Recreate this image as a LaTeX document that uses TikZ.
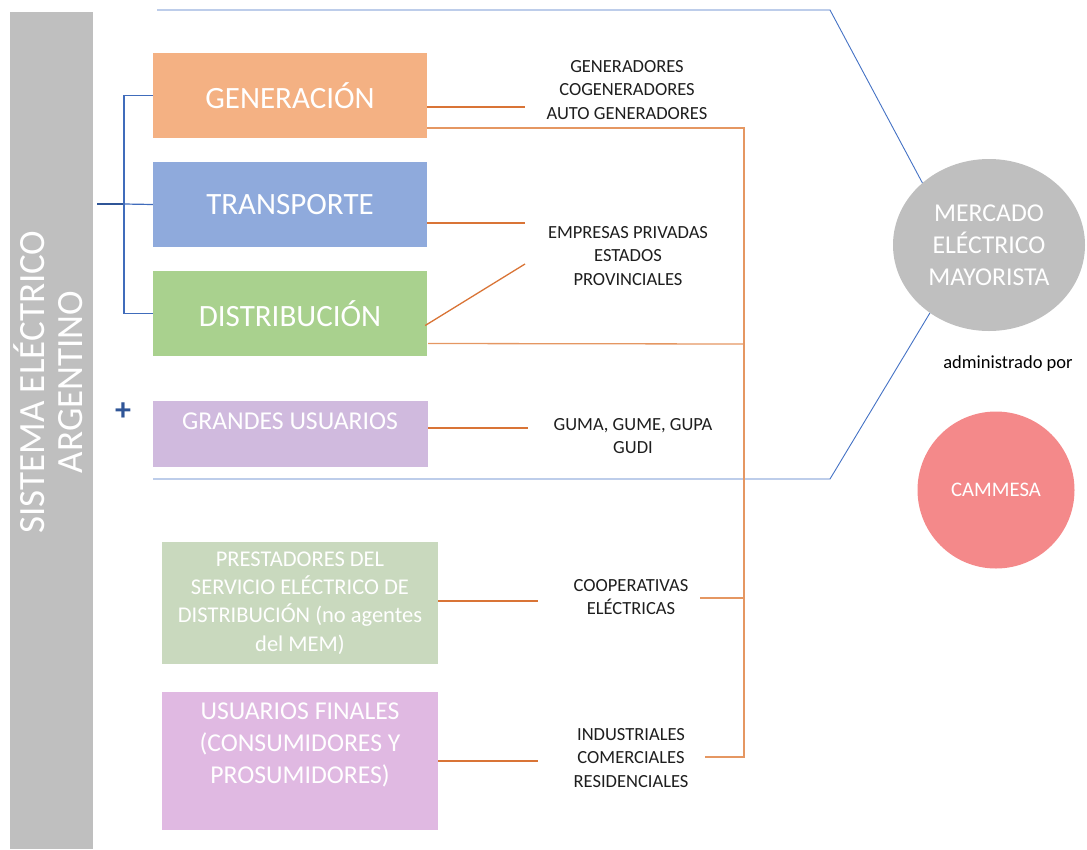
\documentclass[tikz,border=0pt]{standalone}
\usepackage{fontspec}
\setmainfont{Carlito}
\usetikzlibrary{calc,shapes.geometric}
\definecolor{barg}{RGB}{191,191,191}
\definecolor{cgen}{RGB}{244,177,131}
\definecolor{ctra}{RGB}{143,170,220}
\definecolor{cdis}{RGB}{169,209,142}
\definecolor{cgra}{RGB}{208,186,222}
\definecolor{cpre}{RGB}{201,217,190}
\definecolor{cusu}{RGB}{224,185,226}
\definecolor{ccam}{RGB}{244,137,138}
\definecolor{dblue}{RGB}{47,85,151}
\definecolor{lblue}{RGB}{68,114,196}
\definecolor{ostub}{RGB}{217,116,54}
\definecolor{obrk}{RGB}{229,151,98}
\definecolor{txt}{RGB}{30,30,30}
\begin{document}
\begin{tikzpicture}[x=1pt,y=-1pt,
  box/.style={rectangle,inner sep=0pt,draw=none,text=white,align=center},
  bigtxt/.style={font=\fontsize{31}{36}\selectfont},
  midtxt/.style={font=\fontsize{22.5}{28.5}\selectfont},
  lrgtxt/.style={font=\fontsize{25.7}{32}\selectfont},
  smalltxt/.style={font=\fontsize{18.5}{23.5}\selectfont,text=txt,align=center,inner sep=0pt},
  stub/.style={draw=ostub,line width=1.3pt},
  brk/.style={draw=obrk,line width=1.3pt},
  bline/.style={draw=lblue,line width=0.9pt},
  bracket/.style={draw=lblue!80!dblue,line width=1.2pt}]
\useasboundingbox (0,0) rectangle (1087,849);
% gray bar
\node[rectangle,fill=barg,inner sep=0pt,minimum width=83pt,minimum height=837pt,anchor=north west] (bar) at (10,12) {};
\node[rotate=90,text=white,align=center,inner sep=0pt,font=\fontsize{37}{38}\selectfont] (bartxt) at (48,382) {SISTEMA ELÉCTRICO\\ARGENTINO};
% boxes
\node[box,bigtxt,fill=cgen,minimum width=274pt,minimum height=85pt] (gen) at (290,95.5) {GENERACIÓN};
\node[box,bigtxt,fill=ctra,minimum width=274pt,minimum height=85pt] (tra) at (290,204.5) {TRANSPORTE};
\node[box,bigtxt,fill=cdis,minimum width=274pt,minimum height=85pt] (dis) at (290,313.5) {DISTRIBUCIÓN};
\node[box,fill=cgra,minimum width=275pt,minimum height=66pt] (gra) at (290.5,434) {};
\node[lrgtxt,text=white,inner sep=0pt] (gratxt) at (290,421) {GRANDES USUARIOS};
\node[box,midtxt,fill=cpre,minimum width=276pt,minimum height=122pt] (pre) at (300,603) {PRESTADORES DEL\\SERVICIO ELÉCTRICO DE\\DISTRIBUCIÓN (no agentes\\del MEM)};
\node[box,fill=cusu,minimum width=276pt,minimum height=138pt] (usu) at (300,761) {};
\node[lrgtxt,text=white,align=center,inner sep=0pt] (usutxt) at (300,745) {USUARIOS FINALES\\(CONSUMIDORES Y\\PROSUMIDORES)};
% bracket
\coordinate (bx) at (124,204);
\draw[draw=dblue,line width=1.4pt] (97,204) -- (bx);
\draw[bracket] (bx) -- (tra.west);
\draw[bracket] (gen.west) -- (bx |- gen.west) -- (bx |- dis.west) -- (dis.west);
\node[text=dblue,font=\fontsize{32}{32}\selectfont\bfseries,inner sep=0pt] (plus) at (123,412) {+};
% right ellipse and circle
\node[ellipse,fill=barg,inner sep=0pt,minimum width=192pt,minimum height=172pt,text=white,align=center,lrgtxt] (mem) at (989,245) {MERCADO\\ELÉCTRICO\\MAYORISTA};
\node[font=\fontsize{18.5}{22}\selectfont,text=black,inner sep=0pt] (adm) at (1008,364) {administrado por};
\node[circle,fill=ccam,inner sep=0pt,minimum size=157pt,text=white,font=\fontsize{20.7}{24}\selectfont] (cam) at (996,490) {CAMMESA};
% blue envelope lines
\coordinate (bt0) at (157,10);
\coordinate (bt1) at (830,10);
\coordinate (bb0) at (153,479);
\coordinate (bb1) at (830,479);
\draw[bline] (bt0) -- (bt1) -- (mem.137);
\draw[bline] (bb0) -- (bb1) -- (mem.-131);
% text labels
\node[smalltxt] (t1) at (627,90) {GENERADORES\\COGENERADORES\\AUTO GENERADORES};
\node[smalltxt] (t2) at (628,256) {EMPRESAS PRIVADAS\\ESTADOS\\PROVINCIALES};
\node[smalltxt] (t3) at (633,436) {GUMA, GUME, GUPA\\GUDI};
\node[smalltxt] (t4) at (631,597) {COOPERATIVAS\\ELÉCTRICAS};
\node[smalltxt] (t5) at (631,758) {INDUSTRIALES\\COMERCIALES\\RESIDENCIALES};
% orange connectors
\coordinate (s1) at (525,107);
\coordinate (s2) at (525,223);
\coordinate (s3) at (525,264);
\coordinate (s4) at (528,428);
\coordinate (s5) at (538,601);
\coordinate (s6) at (538,761);
\coordinate (v0) at (744,128);
\coordinate (v1) at (744,757);
\draw[stub] (gen.east |- s1) -- (s1);
\draw[stub] (tra.east |- s2) -- (s2);
\draw[stub] ($(dis.east)+(-2,12)$) -- (s3);
\draw[stub] (gra.east |- s4) -- (s4);
\draw[stub] (pre.east |- s5) -- (s5);
\draw[stub] (usu.east |- s6) -- (s6);
\draw[brk] (gen.east |- v0) -- (v0) -- (v1) -- (705,757);
\draw[brk] ($(dis.east)+(1,30)$) -- (v0 |- 0,344);
\draw[brk] (700,598) -- (v0 |- 0,598);
\end{tikzpicture}
\end{document}
